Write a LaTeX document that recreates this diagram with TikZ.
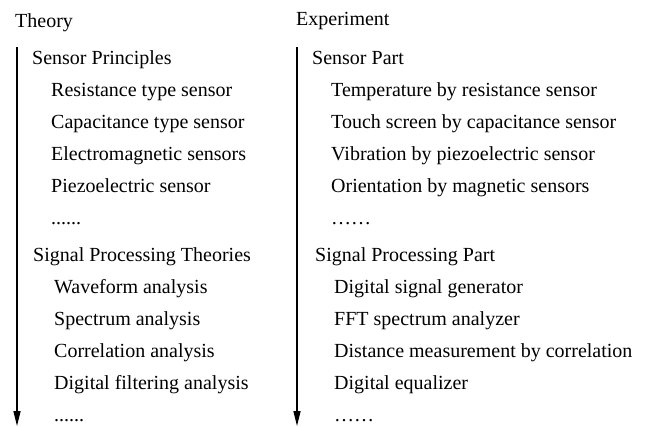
\documentclass[tikz,border=0pt]{standalone}
\usepackage{fontspec}
\setmainfont{Liberation Serif}
\usetikzlibrary{arrows.meta}
\tikzset{
	item/.style={anchor=base west, inner sep=0pt, font=\fontsize{20}{24}\selectfont},
	flow/.style={line width=1.3pt, -{Triangle[width=7pt,length=15pt]}}
}
\begin{document}
\begin{tikzpicture}[x=1pt,y=-1pt]
		\useasboundingbox (0,0) rectangle (647,426);
		\node[item] (thy) at (15,27) {Theory};
		\node[item] (sp) at (32,64) {Sensor Principles};
		\node[item] (rts) at (51,96) {Resistance type sensor};
		\node[item] (cts) at (51,128) {Capacitance type sensor};
		\node[item] (ems) at (51,160) {Electromagnetic sensors};
		\node[item] (pzs) at (51,192) {Piezoelectric sensor};
		\node[item] (sdots) at (51,224) {......};
		\node[item] (spt) at (33,261) {Signal Processing Theories};
		\node[item] (wfa) at (54,293) {Waveform analysis};
		\node[item] (spa) at (54,325) {Spectrum analysis};
		\node[item] (cra) at (54,357) {Correlation analysis};
		\node[item] (dfa) at (54,389) {Digital filtering analysis};
		\node[item] (tdots) at (54,421) {......};
		\node[item] (exp) at (296,25) {Experiment};
		\node[item] (spart) at (312,64) {Sensor Part};
		\node[item] (tbr) at (331,96) {Temperature by resistance sensor};
		\node[item] (tsc) at (331,128) {Touch screen by capacitance sensor};
		\node[item] (vbp) at (331,160) {Vibration by piezoelectric sensor};
		\node[item] (obm) at (331,192) {Orientation by magnetic sensors};
		\node[item] (pdots) at (331,224) {……};
		\node[item] (sppart) at (315,261) {Signal Processing Part};
		\node[item] (dsg) at (334,293) {Digital signal generator};
		\node[item] (fft) at (334,325) {FFT spectrum analyzer};
		\node[item] (dmc) at (334,357) {Distance measurement by correlation};
		\node[item] (deq) at (334,389) {Digital equalizer};
		\node[item] (edots) at (334,421) {……};
		\coordinate (thytop) at (17,47);
		\coordinate (thyend) at (17,426);
		\coordinate (exptop) at (297,47);
		\coordinate (expend) at (297,426);
		\draw[flow] (thytop) -- (thyend);
		\draw[flow] (exptop) -- (expend);
	\end{tikzpicture}
\end{document}
